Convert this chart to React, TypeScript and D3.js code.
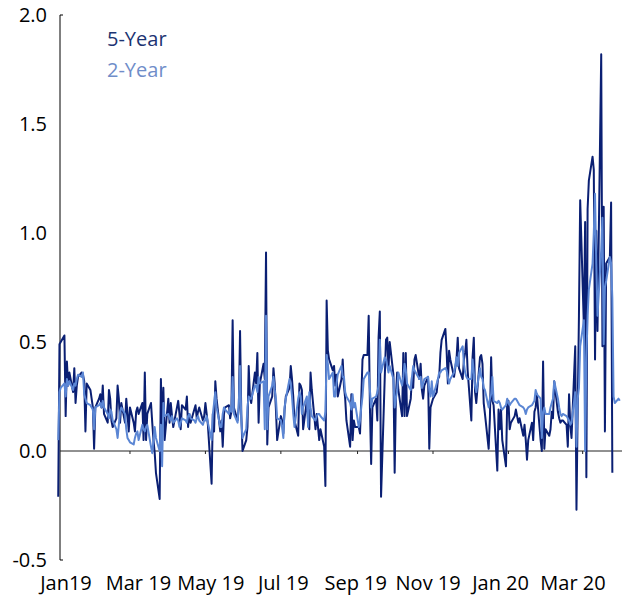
import React from 'react';
import * as d3 from 'd3';

// 5-Year series (business days, Jan 2 2019 – Mar 2020)
const fiveYear: (number | null)[] = [
  // Jan 19
  -0.21, 0.49, 0.50, 0.53, 0.16, 0.41, 0.30, 0.36, 0.27, 0.38, 0.22, 0.30, 0.34, 0.36, 0.35, 0.32, 0.09, 0.31, 0.28, 0.24, 0.20, 0.01,
  // Feb 19
  0.20, 0.24, 0.26, 0.20, 0.30, 0.17, 0.13, 0.28, 0.24, 0.14, 0.11, 0.15, 0.30, 0.24, 0.13, 0.22, 0.13, 0.24, 0.17, 0.09,
  // Mar 19
  0.20, 0.13, 0.09, 0.18, 0.20, 0.17, 0.22, 0.05, 0.36, 0.05, 0.17, 0.22, 0.13, 0.05, -0.01, -0.10, -0.22, 0.33, 0.11, 0.29, 0.05,
  // Apr 19
  0.24, 0.13, 0.22, 0.16, 0.11, 0.20, 0.23, 0.17, 0.10, 0.21, 0.19, 0.25, 0.11, 0.17, 0.13, 0.19, 0.21, 0.15, 0.18, 0.20, 0.14, 0.16,
  // May 19
  0.22, 0.17, 0.12, -0.15, 0.17, 0.09, 0.32, 0.24, 0.09, 0.14, 0.02, 0.17, 0.20, 0.21, 0.15, 0.18, 0.60, 0.20, 0.14, 0.20, 0.55, 0.17, 0.00,
  // Jun 19
  0.05, 0.11, 0.39, 0.25, 0.22, 0.36, 0.31, 0.45, 0.13, 0.31, 0.40, 0.33, 0.91, 0.03, 0.20, 0.25, 0.38, 0.31, 0.19, 0.05,
  // Jul 19
  0.16, 0.14, 0.08, 0.19, 0.25, 0.29, 0.39, 0.33, 0.25, 0.14, 0.07, 0.31, 0.30, 0.28, 0.10, 0.23, 0.14, 0.10, 0.36, 0.28, 0.10, 0.17, 0.11,
  // Aug 19
  0.05, 0.10, 0.02, -0.16, 0.69, 0.46, 0.42, 0.37, 0.39, 0.30, 0.35, 0.25, 0.33, 0.42, 0.30, 0.24, 0.14, 0.02, 0.26, 0.05, 0.14, 0.11,
  // Sep 19
  0.11, 0.08, 0.24, 0.42, 0.44, 0.44, 0.62, 0.20, -0.06, 0.20, 0.24, 0.14, 0.52, 0.64, -0.21, 0.34, 0.51, 0.52, 0.38, 0.50, 0.35,
  // Oct 19
  -0.10, 0.25, 0.36, 0.28, 0.16, 0.45, 0.16, 0.45, 0.16, 0.24, 0.34, 0.29, 0.42, 0.44, 0.33, 0.40, 0.28, 0.24, 0.30, 0.34, 0.01, 0.20, 0.22,
  // Nov 19
  0.24, 0.27, 0.33, 0.34, 0.45, 0.51, 0.56, 0.46, 0.31, 0.46, 0.42, 0.34, 0.38, 0.42, 0.52, 0.38, 0.33, 0.42, 0.45, 0.51, 0.37,
  // Dec 19
  0.14, 0.43, 0.52, 0.27, 0.22, 0.43, 0.44, 0.40, 0.22, 0.17, 0.01, 0.15, 0.43, 0.23, 0.21, -0.09, 0.19, 0.10, 0.19, 0.05, -0.07, 0.23,
  // Jan 20
  0.23, 0.10, 0.13, 0.16, 0.19, 0.16, 0.13, 0.15, 0.07, 0.12, 0.05, -0.04, 0.05, 0.13, 0.05, 0.18, 0.20, 0.26, 0.05, 0.00, 0.41, 0.01, 0.10,
  // Feb 20
  0.07, 0.10, 0.18, 0.15, 0.32, 0.18, 0.15, 0.13, 0.14, 0.14, 0.12, 0.02, 0.26, 0.12, 0.06, 0.48, -0.27, 0.20, 0.62, 1.15,
  // Mar 20
  0.57, 1.05, -0.12, 1.11, 1.24, 1.35, 1.29, 0.42, 1.01, 0.55, 1.82, 0.48, 1.12, 0.09, 0.86, 0.89, 1.14, -0.10, null, null, null, null,
];

// 2-Year series
const twoYear: (number | null)[] = [
  // Jan 19
  0.05, 0.27, 0.29, 0.31, 0.25, 0.33, 0.30, 0.32, 0.28, 0.31, 0.30, 0.33, 0.35, 0.34, 0.36, 0.26, 0.24, 0.22, 0.21, 0.20, 0.19, 0.10,
  // Feb 19
  0.20, 0.21, 0.22, 0.20, 0.23, 0.20, 0.17, 0.15, 0.19, 0.18, 0.14, 0.10, 0.06, 0.12, 0.18, 0.20, 0.17, 0.10, 0.06, 0.05,
  // Mar 19
  0.04, 0.03, 0.06, 0.08, 0.09, 0.05, 0.12, 0.10, 0.09, 0.11, 0.12, 0.02, -0.01, 0.05, 0.11, 0.06, 0.00, 0.12, -0.07, 0.22, 0.16,
  // Apr 19
  0.17, 0.15, 0.14, 0.16, 0.13, 0.15, 0.14, 0.11, 0.13, 0.15, 0.14, 0.13, 0.16, 0.17, 0.15, 0.14, 0.13, 0.15, 0.16, 0.14, 0.12, 0.14,
  // May 19
  0.14, 0.16, 0.13, 0.05, 0.17, 0.22, 0.27, 0.20, 0.11, 0.11, 0.17, 0.20, 0.19, 0.17, 0.20, 0.18, 0.34, 0.17, 0.13, 0.22, 0.39, 0.14, 0.06,
  // Jun 19
  0.10, 0.20, 0.25, 0.24, 0.24, 0.30, 0.30, 0.27, 0.34, 0.31, 0.32, 0.10, 0.62, 0.10, 0.25, 0.30, 0.34, 0.28, 0.24, 0.15,
  // Jul 19
  0.14, 0.11, 0.06, 0.20, 0.24, 0.33, 0.31, 0.25, 0.17, 0.11, 0.24, 0.27, 0.25, 0.17, 0.20, 0.25, 0.11, 0.27, 0.20, 0.16, 0.14, 0.16, 0.17,
  // Aug 19
  0.17, 0.16, 0.14, 0.18, 0.44, 0.40, 0.33, 0.36, 0.25, 0.25, 0.31, 0.35, 0.39, 0.34, 0.34, 0.27, 0.25, 0.22, 0.19, 0.26, 0.20, 0.22,
  // Sep 19
  0.11, 0.14, 0.20, 0.25, 0.33, 0.36, 0.36, 0.28, 0.20, 0.24, 0.25, 0.27, 0.30, 0.51, 0.36, 0.43, 0.42, 0.39, 0.36, 0.39, 0.33,
  // Oct 19
  0.20, 0.24, 0.28, 0.36, 0.30, 0.34, 0.40, 0.37, 0.31, 0.28, 0.34, 0.39, 0.37, 0.36, 0.33, 0.34, 0.29, 0.31, 0.33, 0.34, 0.28, 0.25, 0.32,
  // Nov 19
  0.25, 0.31, 0.33, 0.36, 0.36, 0.37, 0.38, 0.37, 0.34, 0.31, 0.33, 0.36, 0.39, 0.43, 0.39, 0.45, 0.48, 0.40, 0.36, 0.34, 0.33,
  // Dec 19
  0.33, 0.42, 0.36, 0.30, 0.27, 0.38, 0.34, 0.33, 0.29, 0.28, 0.20, 0.24, 0.26, 0.34, 0.23, 0.22, 0.23, 0.22, 0.20, 0.19, 0.21, 0.24,
  // Jan 20
  0.22, 0.21, 0.22, 0.24, 0.24, 0.23, 0.22, 0.21, 0.20, 0.19, 0.17, 0.19, 0.20, 0.21, 0.22, 0.23, 0.28, 0.26, 0.24, 0.06, 0.18, 0.20, 0.17,
  // Feb 20
  0.17, 0.20, 0.22, 0.24, 0.32, 0.24, 0.20, 0.17, 0.16, 0.17, 0.16, 0.15, 0.14, 0.12, 0.13, 0.27, 0.02, 0.24, 0.29, 0.48,
  // Mar 20
  0.60, 0.00, 0.43, 0.62, 0.74, 0.86, 1.00, 1.18, 0.86, 0.62, 0.92, 1.07, 0.49, 0.75, 0.78, 0.89, 0.86, 0.70, 0.25, 0.22, 0.24, 0.23,
];

const xLabels = ['Jan19', 'Mar 19', 'May 19', 'Jul 19', 'Sep 19', 'Nov 19', 'Jan 20', 'Mar 20'];
const yTicks = [-0.5, 0, 0.5, 1.0, 1.5, 2.0];
const xTickDates = [
  new Date(2019, 2, 1), new Date(2019, 4, 1), new Date(2019, 6, 1), new Date(2019, 8, 1),
  new Date(2019, 10, 1), new Date(2020, 0, 1), new Date(2020, 2, 1),
];
const seriesNames = ['5-Year', '2-Year'];
const seriesColors = ['#0a1f73', '#5b86d4'];
const legendColors = ['#1c3472', '#6f8dc9'];

// consecutive weekdays starting Jan 2 2019
function weekdays(start: Date, n: number): Date[] {
  const out: Date[] = [];
  const d = new Date(start);
  while (out.length < n) {
    const w = d.getDay();
    if (w !== 0 && w !== 6) out.push(new Date(d));
    d.setDate(d.getDate() + 1);
  }
  return out;
}

const W = 628;
const H = 596;
const FONT = '"Open Sans", Lato, sans-serif';

export default function App() {
  const n = Math.max(fiveYear.length, twoYear.length);
  const dates = weekdays(new Date(2019, 0, 2), n);

  const x = d3.scaleTime().domain([new Date(2019, 0, 1), new Date(2020, 3, 1)]).range([57, 621]);
  const y = d3.scaleLinear().domain([-0.5, 2.0]).range([560, 15]);
  const xl = d3.scalePoint<string>().domain(xLabels).range([66, 573]);

  const line = d3
    .line<number | null>()
    .defined((v) => v !== null)
    .x((_, i) => x(dates[i]))
    .y((v) => y(v as number));

  const axisX = 60;
  const zeroY = y(0);

  return (
    <svg
      width={W}
      height={H}
      style={{ position: 'absolute', left: 0, top: 0, background: '#fff' }}
      fontFamily={FONT}
    >
      {/* y axis */}
      <path
        d={`M${axisX + 3},${y(2.0)}H${axisX}V${y(-0.5)}H${axisX + 3}`}
        fill="none"
        stroke="#000"
        strokeWidth={1}
      />
      {yTicks.map((t) => (
        <text key={t} x={47} y={y(t)} dy="0.36em" textAnchor="end" fontSize={20} fill="#000">
          {t.toFixed(1)}
        </text>
      ))}
      {/* zero line */}
      <line x1={axisX} x2={622} y1={zeroY} y2={zeroY} stroke="#222" strokeWidth={1} />
      {xTickDates.map((d, i) => (
        <line key={i} x1={x(d)} x2={x(d)} y1={zeroY} y2={zeroY + 3} stroke="#222" strokeWidth={1} />
      ))}
      {xLabels.map((l) => (
        <text key={l} x={xl(l)} y={590} textAnchor="middle" fontSize={20} fill="#000">
          {l}
        </text>
      ))}
      {/* lines */}
      <path d={line(fiveYear) || ''} fill="none" stroke={seriesColors[0]} strokeWidth={2} strokeLinejoin="round" />
      <path d={line(twoYear) || ''} fill="none" stroke={seriesColors[1]} strokeWidth={2} strokeLinejoin="round" />
      {/* legend */}
      {seriesNames.map((s, i) => (
        <text key={s} x={107} y={46 + i * 31} fontSize={20} fill={legendColors[i]}>
          {s}
        </text>
      ))}
    </svg>
  );
}
